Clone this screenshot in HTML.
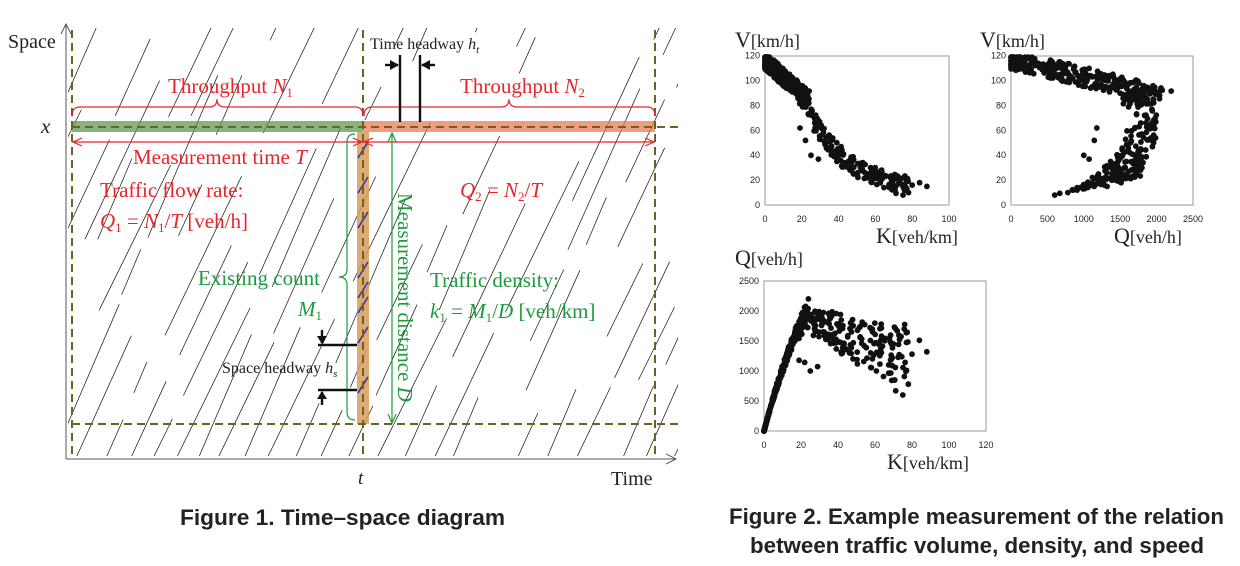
<!DOCTYPE html>
<html><head><meta charset="utf-8"><style>
html,body{margin:0;padding:0;background:#fff;}
svg{display:block;}
.serif{font-family:"Liberation Serif",serif;}
.cap{font-family:"Liberation Sans Narrow","Liberation Sans",sans-serif;font-weight:bold;font-size:22px;fill:#222;}
.tk{font-family:"Liberation Sans",sans-serif;font-size:9px;fill:#222;}
</style></head><body>
<svg id="s" width="1240" height="566" viewBox="0 0 1240 566" xmlns="http://www.w3.org/2000/svg">
<defs>
<clipPath id="cp"><rect x="68" y="28" width="610" height="428"/></clipPath>
<marker id="ra" markerWidth="10" markerHeight="10" refX="9" refY="5" orient="auto" markerUnits="userSpaceOnUse"><path d="M0,1 L9,5 L0,9" fill="none" stroke="#e8252b" stroke-width="1.2"/></marker>
<marker id="ga" markerWidth="10" markerHeight="10" refX="9" refY="5" orient="auto" markerUnits="userSpaceOnUse"><path d="M0,1 L9,5 L0,9" fill="none" stroke="#1e9a3e" stroke-width="1.2"/></marker>
<marker id="ka" markerWidth="12" markerHeight="12" refX="10" refY="6" orient="auto" markerUnits="userSpaceOnUse"><path d="M0,1 L10,6 L0,11" fill="none" stroke="#555" stroke-width="1"/></marker>
</defs>
<g id="traj" clip-path="url(#cp)" stroke="#111" stroke-width="0.7" fill="none"></g>
<rect x="72" y="121" width="291" height="11" fill="#5d9a55" opacity="0.75"/>
<rect x="363" y="121" width="292" height="11" fill="#ec7a55" opacity="0.75"/>
<rect x="357" y="132" width="12" height="292" fill="#d89c5c" opacity="0.85"/>
<g id="blue" stroke="#3a2fa8" stroke-width="1.6"></g>
<line x1="66" y1="459" x2="676" y2="459" stroke="#555" stroke-width="1" marker-end="url(#ka)"/>
<line x1="66" y1="459" x2="66" y2="24" stroke="#555" stroke-width="1" marker-end="url(#ka)"/>
<g stroke="#6b6320" stroke-width="2" stroke-dasharray="8,5" fill="none">
<line x1="72" y1="30" x2="72" y2="459"/>
<line x1="363" y1="30" x2="363" y2="459"/>
<line x1="655" y1="30" x2="655" y2="459"/>
<line x1="72" y1="127" x2="682" y2="127"/>
<line x1="72" y1="424" x2="682" y2="424"/>
</g>
<g stroke="#e8252b" stroke-width="1.2" fill="none">
<path d="M72,116 Q72,107 80,107 L209,107 Q217,107 217,99 Q217,107 225,107 L355,107 Q363,107 363,116"/>
<path d="M364,116 Q364,107 372,107 L501,107 Q509,107 509,99 Q509,107 517,107 L647,107 Q655,107 655,116"/>
<line x1="218" y1="142" x2="73" y2="142" marker-end="url(#ra)"/>
<line x1="218" y1="142" x2="362" y2="142" marker-end="url(#ra)"/>
<line x1="509" y1="142" x2="364" y2="142" marker-end="url(#ra)"/>
<line x1="509" y1="142" x2="654" y2="142" marker-end="url(#ra)"/>
</g>
<g stroke="#1e9a3e" stroke-width="1.2" fill="none">
<path d="M355,134 Q347,134 347,142 L347,269 Q347,277 339,277 Q347,277 347,285 L347,412 Q347,420 355,420"/>
<line x1="392" y1="278" x2="392" y2="133" marker-end="url(#ga)"/>
<line x1="392" y1="278" x2="392" y2="423" marker-end="url(#ga)"/>
</g>
<g stroke="#111" stroke-width="2.4" fill="none">
<line x1="400" y1="55" x2="400" y2="122"/>
<line x1="420" y1="55" x2="420" y2="122"/>
<line x1="318" y1="345" x2="357" y2="345"/>
<line x1="318" y1="390" x2="357" y2="390"/>
<line x1="385" y1="65" x2="398" y2="65"/>
<line x1="435" y1="65" x2="422" y2="65"/>
<line x1="322" y1="330" x2="322" y2="343"/>
<line x1="322" y1="405" x2="322" y2="392"/>
</g>
<g fill="#111">
<path d="M399,65 L390,60 L390,70Z"/><path d="M421,65 L430,60 L430,70Z"/>
<path d="M322,344 L317,336 L327,336Z"/><path d="M322,391 L317,399 L327,399Z"/>
</g>
<g class="serif">
<text x="8" y="48" font-size="20" fill="#222">Space</text>
<text x="41" y="133" font-size="21" font-style="italic" fill="#222">x</text>
<text x="358" y="484" font-size="19" font-style="italic" fill="#222">t</text>
<text x="611" y="485" font-size="20" fill="#222">Time</text>
<text x="370" y="49" font-size="16" fill="#222">Time headway <tspan font-style="italic">h</tspan><tspan font-style="italic" font-size="11" dy="4">t</tspan></text>
<text x="222" y="373" font-size="16" fill="#222">Space headway <tspan font-style="italic">h</tspan><tspan font-style="italic" font-size="11" dy="4">s</tspan></text>
<g fill="#e8252b" font-size="21">
<text x="168" y="93">Throughput <tspan font-style="italic">N</tspan><tspan font-size="13" dy="4">1</tspan></text>
<text x="460" y="93">Throughput <tspan font-style="italic">N</tspan><tspan font-size="13" dy="4">2</tspan></text>
<text x="133" y="164">Measurement time <tspan font-style="italic">T</tspan></text>
<text x="100" y="197">Traffic flow rate:</text>
<text x="100" y="228"><tspan font-style="italic">Q</tspan><tspan font-size="13" dy="4">1</tspan><tspan dy="-4"> = </tspan><tspan font-style="italic">N</tspan><tspan font-size="13" dy="4">1</tspan><tspan dy="-4">/</tspan><tspan font-style="italic">T</tspan> [veh/h]</text>
<text x="460" y="197"><tspan font-style="italic">Q</tspan><tspan font-size="13" dy="4">2</tspan><tspan dy="-4"> = </tspan><tspan font-style="italic">N</tspan><tspan font-size="13" dy="4">2</tspan><tspan dy="-4">/</tspan><tspan font-style="italic">T</tspan></text>
</g>
<g fill="#1e9a3e" font-size="21">
<text x="198" y="285">Existing count</text>
<text x="298" y="316" font-style="italic">M<tspan font-style="normal" font-size="13" dy="4">1</tspan></text>
<text x="430" y="287">Traffic density:</text>
<text x="430" y="318"><tspan font-style="italic">k</tspan><tspan font-size="13" dy="4">1</tspan><tspan dy="-4"> = </tspan><tspan font-style="italic">M</tspan><tspan font-size="13" dy="4">1</tspan><tspan dy="-4">/</tspan><tspan font-style="italic">D</tspan> [veh/km]</text>
<text transform="translate(398,193) rotate(90)">Measurement distance <tspan font-style="italic">D</tspan></text>
</g>
</g>
<text class="cap" x="180" y="525" textLength="325" lengthAdjust="spacingAndGlyphs">Figure 1. Time–space diagram</text>
<text class="cap" x="729" y="524" textLength="495" lengthAdjust="spacingAndGlyphs">Figure 2. Example measurement of the relation</text>
<text class="cap" x="750" y="553" textLength="454" lengthAdjust="spacingAndGlyphs">between traffic volume, density, and speed</text>
<g class="serif" fill="#222">
<text x="735" y="47" font-size="22">V<tspan font-size="18">[km/h]</tspan></text>
<text x="980" y="47" font-size="22">V<tspan font-size="18">[km/h]</tspan></text>
<text x="876" y="243" font-size="22">K<tspan font-size="18">[veh/km]</tspan></text>
<text x="1114" y="243" font-size="22">Q<tspan font-size="18">[veh/h]</tspan></text>
<text x="735" y="265" font-size="22">Q<tspan font-size="18">[veh/h]</tspan></text>
<text x="887" y="469" font-size="22">K<tspan font-size="18">[veh/km]</tspan></text>
</g>
<g fill="none" stroke="#9a9a9a" stroke-width="1">
<rect x="765" y="56" width="184" height="149"/>
<rect x="1011" y="56" width="182" height="149"/>
<rect x="764" y="281" width="222" height="150"/>
</g>
<g id="ticks"></g>
<g id="dots" fill="#111"></g>
</svg>
<script>
var NS="http://www.w3.org/2000/svg";
var seed=7;function r(){seed=(seed*16807)%2147483647;return (seed-1)/2147483646;}
function el(p,n,a){var e=document.createElementNS(NS,n);for(var k in a)e.setAttribute(k,a[k]);p.appendChild(e);return e;}
var tr=document.getElementById("traj");
for(var x0=-250;x0<700;x0+=18+r()*12){
  var y=460;
  while(y>25){
    var len=30+r()*140, gap=8+r()*45;
    var y2=Math.max(25,y-len);
    var s=0.42+r()*0.08;
    var xa=x0+(460-y)*s, xb=x0+(460-y2)*s;
    if(r()<0.75) el(tr,"line",{x1:xa.toFixed(1),y1:y.toFixed(1),x2:xb.toFixed(1),y2:y2.toFixed(1)});
    y=y2-gap;
  }
}
var bl=document.getElementById("blue");
[150,185,220,270,290,305,335,385].forEach(function(yy){el(bl,"line",{x1:358,y1:yy+8,x2:368,y2:yy-8});});
var tk=document.getElementById("ticks");
function lbl(x,y,t,a){var e=el(tk,"text",{x:x,y:y,"class":"tk","text-anchor":a});e.textContent=t;}
for(var i=0;i<=6;i++){lbl(760,205-i*24.9+3,String(i*20),"end");lbl(1006,205-i*24.9+3,String(i*20),"end");}
for(var i=0;i<=5;i++){lbl(765+i*36.8,222,String(i*20),"middle");lbl(1011+i*36.4,222,String(i*500),"middle");}
for(var i=0;i<=5;i++){lbl(759,431-i*30+3,String(i*500),"end");}
for(var i=0;i<=6;i++){lbl(764+i*37,448,String(i*20),"middle");}
var dg=document.getElementById("dots");
function dot(x,y){el(dg,"circle",{cx:x.toFixed(1),cy:y.toFixed(1),r:2.9});}
var pts=[];
for(var i=0;i<330;i++){var k=Math.pow(r(),1.6)*24;var v=116-k*1.3+(r()-0.5)*14;pts.push([k,v]);}
for(var i=0;i<35;i++){var k=18+r()*12;var v=92-(k-18)*2.8+(r()-0.5)*16;pts.push([k,v]);}
for(var i=0;i<160;i++){var k=28+r()*50;var v=50*Math.exp(-(k-30)/20)+11+(r()-0.5)*16;pts.push([k,v]);}
pts.push([84,18],[88,15],[80,16],[75,8],[78,10],[19,62],[22,52],[25,40],[29,37],[30,63],[27,66]);
pts.forEach(function(p){
 var k=p[0],v=Math.min(119,Math.max(3,p[1])),q=k*v;
 dot(765+k/100*184,205-v/120*149);
 if(q<2400) dot(1011+q/2500*182,205-v/120*149);
 if(q<2400) dot(764+k/120*222,431-q/2500*150);
});
</script>
</body></html>
